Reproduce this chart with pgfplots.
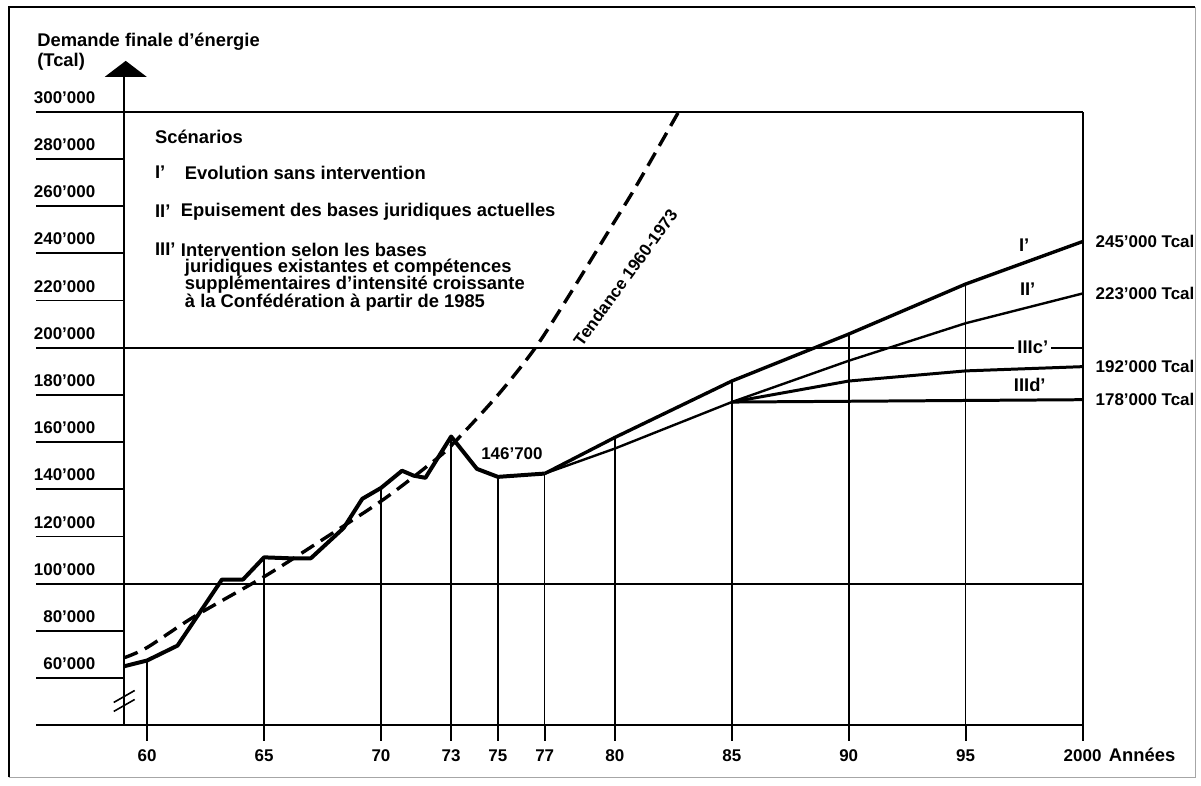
\documentclass[border=0pt]{standalone}
\usepackage{fontspec}
\setmainfont{Liberation Sans}
\usepackage{pgfplots}
\pgfplotsset{compat=1.18}

% y tick: short line left of the axis, label above it
\newcommand\ylab[2]{%
  \draw[line width=0.9pt] (axis cs:1955.25,#1) -- (axis cs:1959,#1);
  \node[anchor=south east, inner sep=0pt, yshift=4pt] at (axis cs:1957.8,#1) {#2};}
\newcommand\xlab[2]{%
  \draw[line width=0.9pt] (axis cs:#1,40000) -- ([yshift=-8pt]axis cs:#1,40000);
  \node[anchor=center, yshift=-15pt] at (axis cs:#1,40000) {#2};}
\newcommand\txt{\fontsize{9.2}{11}\selectfont\bfseries}

\begin{document}
\begin{tikzpicture}[font=\fontsize{8.5}{10}\selectfont\bfseries]
\begin{axis}[
  scale only axis, width=480.5pt, height=307.5pt,
  xmin=1959, xmax=2000, ymin=40000, ymax=300000,
  axis lines=none, clip mode=individual,
]
% long horizontal lines and right edge
\pgfplotsinvokeforeach{40000,100000,200000,300000}{
  \draw[line width=0.9pt] (axis cs:1955.25,#1) -- (axis cs:2000,#1);
}
\draw[line width=0.9pt] (axis cs:2000,40000) -- (axis cs:2000,300000);
\ylab{60000}{60’000}
\ylab{80000}{80’000}
\ylab{100000}{100’000}
\ylab{120000}{120’000}
\ylab{140000}{140’000}
\ylab{160000}{160’000}
\ylab{180000}{180’000}
\ylab{200000}{200’000}
\ylab{220000}{220’000}
\ylab{240000}{240’000}
\ylab{260000}{260’000}
\ylab{280000}{280’000}
\ylab{300000}{300’000}

\xlab{1960}{60}
\xlab{1965}{65}
\xlab{1970}{70}
\xlab{1973}{73}
\xlab{1975}{75}
\xlab{1977}{77}
\xlab{1980}{80}
\xlab{1985}{85}
\xlab{1990}{90}
\xlab{1995}{95}
\xlab{2000}{2000}

% drop lines
\addplot[ycomb, line width=0.8pt] coordinates {
  (1960,67500) (1965,111200) (1970,140600) (1973,162400) (1975,145300)
  (1977,146700) (1980,162000) (1985,185900) (1990,205800) (1995,227000)
  (2000,245000)};

% trend 1960-1973
\addplot[line width=1.7pt, dash pattern=on 7.5pt off 4pt, smooth] coordinates {
  (1959,68600) (1960,73000) (1962,86000) (1965,103000) (1967,115500)
  (1970,135000) (1972,150000) (1973,158500) (1975,180000) (1976.6,200000)
  (1978,221500) (1979.8,250500) (1981,270000) (1983.3,310000)};

% observed demand
\addplot[line width=2pt, line join=round] coordinates {
  (1959,65000) (1960,67500) (1961.3,73800) (1963.2,101800) (1964.1,101800)
  (1965,111200) (1966.1,110800) (1967,110800) (1968.4,123600) (1969.2,136000)
  (1970,140600) (1970.9,147900) (1971.4,145800) (1971.9,144900) (1973,162400)
  (1974.1,148700) (1975,145300) (1977,146700)};

% scenarios
\addplot[line width=1.7pt, line join=round] coordinates {
  (1977,146700) (1980,162000) (1985,185900) (1990,205800) (1995,227000) (2000,245000)};
\addplot[line width=1.2pt, line join=round] coordinates {
  (1977,146700) (1980,157300) (1985,177000) (1990,194500) (1995,210400) (2000,223000)};
\addplot[line width=1.5pt, line join=round] coordinates {
  (1985,177000) (1990,185900) (1995,190200) (2000,192000)};
\addplot[line width=1.5pt] coordinates {(1985,177000) (2000,178000)};

% labels on the curves
\node[anchor=west, xshift=3pt] at (axis cs:2000,245000) {245’000 Tcal};
\node[anchor=west, xshift=3pt] at (axis cs:2000,223000) {223’000 Tcal};
\node[anchor=west, xshift=3pt] at (axis cs:2000,192000) {192’000 Tcal};
\node[anchor=west, xshift=3pt] at (axis cs:2000,178000) {178’000 Tcal};
\node[font=\txt] at (axis cs:1997.5,243500) {I’};
\node[font=\txt] at (axis cs:1997.65,224900) {II’};
\node[font=\txt, fill=white, inner sep=1.5pt] at (axis cs:1997.87,200000) {IIIc’};
\node[font=\txt] at (axis cs:1997.74,184200) {IIId’};
\node at (axis cs:1975.6,155200) {146’700};
\node[rotate=54] at (axis cs:1980.45,229800) {Tendance 1960-1973};
\end{axis}

% picture coordinates in reference pixels
\begin{scope}[x=0.5pt, y=-0.5pt, shift={(-62pt,363.5pt)}]
  \path (0,0) rectangle (1201,787);
  \draw[line width=1pt] (9,779) -- (9,7) -- (1198,7);
  \draw[line width=0.5pt, black!35] (1198,7) -- (1198,779) -- (9,779);
  % y axis with arrow and break
  \draw[line width=1pt] (124,727) -- (124,72);
  \fill (105,77) -- (147,77) -- (126,61) -- cycle;
  \draw[line width=0.8pt] (114,704) -- (135,692);
  \draw[line width=0.8pt] (114,713) -- (135,701);
  \begin{scope}[every node/.style={anchor=west, inner sep=0pt, font=\txt}]
  \node at (37,42) {Demande finale d’énergie};
  \node at (37,62) {(Tcal)};
  \node at (1111,757) {Années};
  % scenario list
  \node at (155,137) {Scénarios};
  \node at (155,173) {I’};
  \node at (185,173) {Evolution sans intervention};
  \node at (155,212) {II’};
  \node at (181,212) {Epuisement des bases juridiques actuelles};
  \node at (155,250) {III’};
  \node at (181,250) {Intervention selon les bases};
  \node at (185,268) {juridiques existantes et compétences};
  \node at (185,285) {supplémentaires d’intensité croissante};
  \node at (185,303) {à la Confédération à partir de 1985};
  \end{scope}
\end{scope}
\end{tikzpicture}
\end{document}
